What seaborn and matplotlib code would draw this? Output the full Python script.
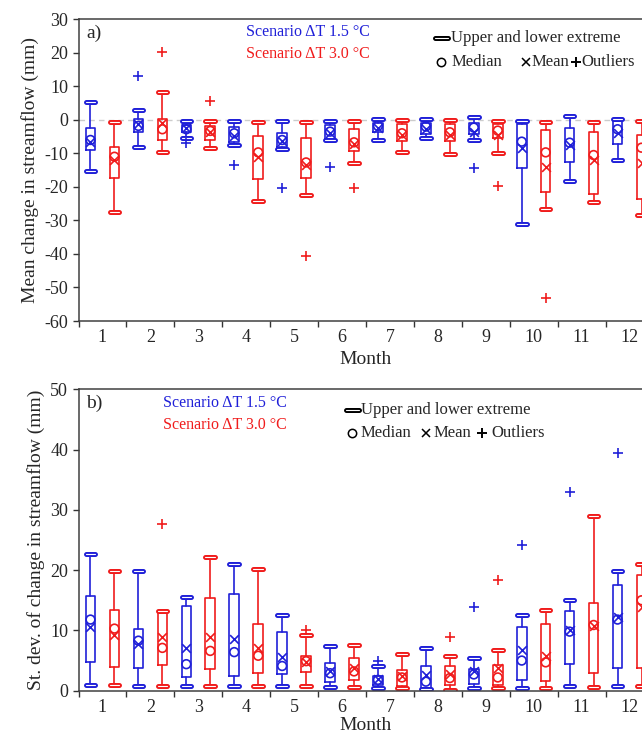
import numpy as np
import pandas as pd
import matplotlib
matplotlib.use("Agg")
import matplotlib.pyplot as plt
import matplotlib.patheffects as pe
import seaborn as sns

# ---------------- data ----------------
months = list(range(1, 13))
month_labels = [str(m) for m in months]
scenario_labels = ["Scenario \u0394T 1.5 \u00b0C", "Scenario \u0394T 3.0 \u00b0C"]
key_labels = ["Upper and lower extreme", "Median", "Mean", "Outliers"]

# Panel a: mean change in streamflow (mm)
a15_lo = [-15.3, -8.2, -5.3, -7.5, -8.6, -6.1, -6.0, -5.5, -6.0, -31.0, -18.3, -12.1]
a15_q1 = [-9.0, -3.7, -3.7, -6.5, -8.2, -5.8, -3.7, -4.3, -4.3, -14.5, -12.7, -7.1]
a15_med = [-6.0, -1.8, -2.8, -4.0, -6.0, -3.5, -1.8, -2.0, -2.3, -6.5, -6.8, -2.8]
a15_q3 = [-2.5, 0.3, -1.5, -2.2, -4.0, -1.5, -1.0, -1.0, -1.0, -1.3, -2.3, -0.2]
a15_hi = [5.2, 2.8, -0.2, -0.2, -0.3, -0.3, 0.2, 0.3, 1.0, -0.2, 1.2, 0.2]
a15_mean = [-6.5, -1.2, -2.5, -4.7, -6.2, -4.0, -2.4, -2.8, -3.5, -8.5, -7.5, -4.0]
a15_out_month = [2, 3, 4, 5, 6, 9]
a15_out_value = [13.0, -7.0, -13.6, -20.3, -14.0, -14.5]

a30_lo = [-27.6, -9.6, -8.5, -24.2, -22.4, -12.9, -9.5, -10.2, -10.0, -26.5, -24.5, -28.3]
a30_q1 = [-17.2, -6.1, -6.1, -17.6, -17.3, -9.3, -6.3, -6.3, -5.5, -21.6, -22.0, -23.5]
a30_med = [-11.0, -2.8, -3.3, -9.7, -12.7, -6.7, -4.0, -3.7, -3.2, -9.7, -10.5, -8.3]
a30_q3 = [-8.2, 0.3, -1.8, -4.7, -5.5, -2.6, -1.3, -1.3, -1.3, -3.0, -3.6, -4.5]
a30_hi = [-0.7, 8.3, -0.3, -0.7, -0.7, -0.3, 0.0, 0.0, -0.2, -0.5, -0.5, -0.3]
a30_mean = [-12.0, -0.8, -3.5, -11.0, -13.5, -7.3, -4.5, -4.5, -4.5, -14.2, -12.0, -13.0]
a30_out_month = [2, 3, 5, 6, 9, 10]
a30_out_value = [20.3, 5.5, -40.6, -20.3, -19.8, -53.2]

# Panel b: st. dev. of change in streamflow (mm)
b15_lo = [1.0, 0.8, 0.8, 0.8, 0.7, 0.6, 0.4, 0.2, 0.4, 0.4, 0.7, 0.7]
b15_q1 = [4.7, 3.8, 2.2, 2.4, 2.8, 1.4, 1.0, 0.3, 1.1, 1.7, 4.4, 3.8]
b15_med = [11.8, 8.3, 4.4, 6.4, 4.1, 2.9, 1.8, 1.5, 2.7, 5.0, 9.8, 11.8]
b15_q3 = [15.7, 10.3, 14.1, 16.1, 9.7, 4.6, 2.5, 4.1, 3.6, 10.6, 13.3, 17.5]
b15_hi = [22.7, 19.9, 15.6, 21.1, 12.6, 7.4, 4.1, 7.1, 5.4, 12.6, 15.1, 19.8]
b15_mean = [10.6, 7.8, 7.1, 8.6, 5.6, 3.2, 1.9, 2.6, 3.2, 6.8, 10.0, 12.2]
b15_out_month = [7, 9, 10, 11, 12]
b15_out_value = [4.9, 13.9, 24.1, 32.9, 39.4]

b30_lo = [1.0, 0.8, 0.8, 0.8, 0.8, 0.6, 0.4, 0.1, 0.4, 0.4, 0.6, 0.7]
b30_q1 = [4.0, 4.3, 3.6, 2.9, 3.1, 1.8, 0.8, 1.0, 1.0, 1.6, 2.9, 3.8]
b30_med = [10.3, 7.1, 6.6, 5.8, 4.9, 3.2, 2.2, 2.1, 2.2, 4.7, 10.9, 15.0]
b30_q3 = [13.4, 13.2, 15.4, 11.1, 5.8, 5.4, 3.4, 4.1, 4.3, 11.1, 14.6, 19.2]
b30_hi = [19.9, 13.2, 22.2, 20.2, 9.2, 7.6, 6.1, 5.8, 6.7, 13.4, 28.9, 21.0]
b30_mean = [9.2, 8.9, 8.9, 7.1, 4.8, 3.8, 2.5, 2.7, 3.8, 5.8, 10.7, 13.9]
b30_out_month = [2, 5, 8, 9]
b30_out_value = [27.7, 10.1, 8.9, 18.3]

# ---------------- style ----------------
sns.set_style("ticks")
plt.rcParams["font.family"] = ["Liberation Serif", "DejaVu Serif"]

BLUE = "#2020d8"
RED = "#f01c1c"
OFFSET = 0.25
BOXW = 0.2

fig = plt.figure(figsize=(6.42, 7.34), dpi=100)
W, H = 642.0, 734.0
ax_a = fig.add_axes([78.5 / W, 1 - 321.0 / H, 575.0 / W, 301.7 / H])
ax_b = fig.add_axes([78.5 / W, 1 - 690.7 / H, 575.0 / W, 301.4 / H])


def draw_series(ax, lo, q1, med, q3, hi, mean, out_m, out_v, color, off):
    pos = np.array(months, dtype=float) + off
    stats = [dict(whislo=lo[i], q1=q1[i], med=med[i], q3=q3[i], whishi=hi[i],
                  fliers=[]) for i in range(len(months))]
    ax.bxp(stats, positions=pos, widths=BOXW, capwidths=BOXW, showfliers=False,
           manage_ticks=False,
           boxprops=dict(color=color, lw=1.2),
           whiskerprops=dict(color=color, lw=1.2),
           capprops=dict(color="white", lw=0.8,
                         path_effects=[pe.Stroke(linewidth=3.6, foreground=color),
                                       pe.Normal()]),
           medianprops=dict(lw=0))
    df_med = pd.DataFrame({"pos": pos, "value": med})
    df_mean = pd.DataFrame({"pos": pos, "value": mean})
    df_out = pd.DataFrame({"pos": np.array(out_m, dtype=float) + off, "value": out_v})
    n0 = len(ax.collections)
    sns.scatterplot(data=df_med, x="pos", y="value", marker="o", s=40, color=color,
                    linewidth=1.2, ax=ax, zorder=4, legend=False)
    sns.scatterplot(data=df_mean, x="pos", y="value", marker="x", s=40, color=color,
                    linewidth=1.2, ax=ax, zorder=4, legend=False)
    sns.scatterplot(data=df_out, x="pos", y="value", marker="+", s=55, color=color,
                    linewidth=1.2, ax=ax, zorder=4, legend=False)
    for k, c in enumerate(ax.collections[n0:]):
        c.set_edgecolor(color)
        if k == 0:
            c.set_facecolor("none")


def draw_key(ax, kx, ky):
    """Key drawn in axes fraction coordinates.
    kx = (cap glyph centre, cap text, circle, median text, x, mean text, +, outlier text)
    ky = (row1, row2)"""
    tr = ax.transAxes
    hw = 0.0115
    ax.plot([kx[0] - hw, kx[0] + hw], [ky[0], ky[0]], transform=tr, color="white",
            lw=0.8, clip_on=False,
            path_effects=[pe.Stroke(linewidth=3.6, foreground="black"), pe.Normal()])
    ax.text(kx[1], ky[0], key_labels[0], transform=tr, fontsize=12, ha="left", va="center")
    ax.plot([kx[2]], [ky[1]], transform=tr, ls="none", marker="o", markersize=6,
            mfc="none", mec="black", mew=1.1, clip_on=False)
    ax.text(kx[3], ky[1], key_labels[1], transform=tr, fontsize=12, ha="left", va="center")
    ax.plot([kx[4]], [ky[1]], transform=tr, ls="none", marker="x", markersize=6,
            color="black", mew=1.1, clip_on=False)
    ax.text(kx[5], ky[1], key_labels[2], transform=tr, fontsize=12, ha="left", va="center")
    ax.plot([kx[6]], [ky[1]], transform=tr, ls="none", marker="+", markersize=7.5,
            color="black", mew=1.4, clip_on=False)
    ax.text(kx[7], ky[1], key_labels[3], transform=tr, fontsize=12, ha="left", va="center")


def style_axes(ax, ylim, yticks, ylabel, letter, txt_pos, kx, ky, xlabelpad):
    ax.set_xlim(0.5, 12.5)
    ax.set_ylim(*ylim)
    ax.set_yticks(yticks)
    ax.set_yticklabels([str(v) for v in yticks])
    ax.set_xticks(np.arange(0.5, 13.0, 1.0))
    ax.set_xticklabels([])
    ax.set_xticks(months, minor=True)
    ax.set_xticklabels(month_labels, minor=True)
    ax.tick_params(axis="x", which="major", direction="out", length=4, width=1.0,
                   color="#333333")
    ax.tick_params(axis="x", which="minor", length=0, labelsize=13, pad=6)
    ax.tick_params(axis="y", direction="out", length=4, width=1.0, labelsize=13,
                   color="#333333")
    ax.set_xlabel("Month", fontsize=14, labelpad=xlabelpad)
    ax.set_ylabel(ylabel, fontsize=14, labelpad=4)
    for s in ["top", "left", "bottom", "right"]:
        ax.spines[s].set_visible(True)
        ax.spines[s].set_color("#404040")
        ax.spines[s].set_linewidth(1.1)
    ax.text(0.014, 0.955, letter, transform=ax.transAxes, fontsize=14,
            ha="left", va="center")
    ax.text(txt_pos[0], txt_pos[1], scenario_labels[0], transform=ax.transAxes,
            fontsize=11.5, color=BLUE, ha="left", va="center")
    ax.text(txt_pos[0], txt_pos[2], scenario_labels[1], transform=ax.transAxes,
            fontsize=11.5, color=RED, ha="left", va="center")
    draw_key(ax, kx, ky)


# Panel a
ax_a.axhline(0, color="#cccccc", lw=1.0, ls=(0, (4, 3)), zorder=0)
draw_series(ax_a, a15_lo, a15_q1, a15_med, a15_q3, a15_hi, a15_mean,
            a15_out_month, a15_out_value, BLUE, -OFFSET)
draw_series(ax_a, a30_lo, a30_q1, a30_med, a30_q3, a30_hi, a30_mean,
            a30_out_month, a30_out_value, RED, OFFSET)
style_axes(ax_a, (-60, 30), list(range(-60, 31, 10)),
           "Mean change in streamflow (mm)", "a)",
           (0.291, 0.957, 0.884),
           (0.631, 0.647, 0.6305, 0.649, 0.778, 0.788, 0.865, 0.875),
           (0.937, 0.859), 3)

# Panel b
draw_series(ax_b, b15_lo, b15_q1, b15_med, b15_q3, b15_hi, b15_mean,
            b15_out_month, b15_out_value, BLUE, -OFFSET)
draw_series(ax_b, b30_lo, b30_q1, b30_med, b30_q3, b30_hi, b30_mean,
            b30_out_month, b30_out_value, RED, OFFSET)
style_axes(ax_b, (0, 50), list(range(0, 51, 10)),
           "St. dev. of change in streamflow (mm)", "b)",
           (0.147, 0.9535, 0.8815),
           (0.4765, 0.491, 0.4765, 0.491, 0.6035, 0.618, 0.702, 0.7186),
           (0.931, 0.856), 1)

fig.savefig("out.png", dpi=100)
